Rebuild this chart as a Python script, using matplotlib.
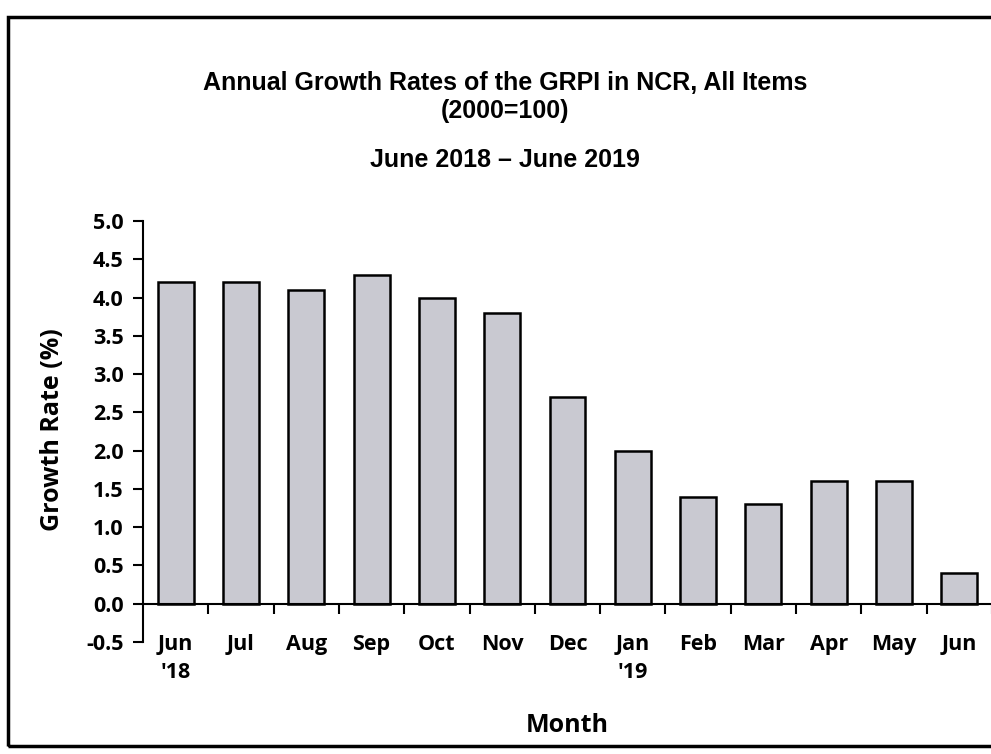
import matplotlib.pyplot as plt
from matplotlib.patches import Rectangle

# --- Datos del gráfico ---
meses = ["Jun\n'18", "Jul", "Aug", "Sep", "Oct", "Nov", "Dec",
         "Jan\n'19", "Feb", "Mar", "Apr", "May", "Jun"]
tasas = [4.2, 4.2, 4.1, 4.3, 4.0, 3.8, 2.7, 2.0, 1.4, 1.3, 1.6, 1.6, 0.4]
ticks_y = [-0.5, 0.0, 0.5, 1.0, 1.5, 2.0, 2.5, 3.0, 3.5, 4.0, 4.5, 5.0]

fuente = 'Open Sans'

fig = plt.figure(figsize=(9.91, 7.54), dpi=100)
ax = fig.add_axes([143 / 991, 1 - 642 / 754, 849 / 991, (642 - 221) / 754])

x = list(range(len(meses)))
ax.bar(x, tasas, width=0.55, color='#c9c9d1', edgecolor='black', linewidth=1.8, zorder=2)

ax.set_xlim(-0.5, len(meses) - 0.5)
ax.set_ylim(-0.5, 5.0)

# ejes: eje x pasa por cero
for lado in ['top', 'right']:
    ax.spines[lado].set_visible(False)
ax.spines['bottom'].set_position(('data', 0))
ax.spines['bottom'].set_linewidth(1.5)
ax.spines['left'].set_linewidth(1.5)

ax.set_yticks(ticks_y)
ax.set_yticklabels([f"{v:.1f}" for v in ticks_y], fontsize=15.5, fontweight='bold', family=fuente)
ax.tick_params(axis='y', length=7, width=1.5, pad=7)

# separadores entre categorias (minor ticks) y etiquetas en el centro
ax.set_xticks([i + 0.5 for i in x], minor=True)
ax.set_xticks(x)
ax.set_xticklabels(meses, fontsize=15.5, fontweight='bold', family=fuente, va='top', linespacing=1.45)
ax.tick_params(axis='x', which='major', length=0, pad=22)
ax.tick_params(axis='x', which='minor', length=7, width=1.5, direction='out')

ax.set_ylabel("Growth Rate (%)", fontsize=18, fontweight='bold', family=fuente)
ax.yaxis.set_label_coords(53 / 991, 1 - 430 / 754, transform=fig.transFigure)
ax.yaxis.label.set_va('center')
fig.text(567 / 991, 1 - 725 / 754, "Month", ha='center', va='center',
         fontsize=18, fontweight='bold', family=fuente)

# titulos
fig.text(505 / 991, 1 - 83 / 754, "Annual Growth Rates of the GRPI in NCR, All Items",
         ha='center', va='center', fontsize=18, fontweight='bold', family='Liberation Sans')
fig.text(505 / 991, 1 - 111 / 754, "(2000=100)",
         ha='center', va='center', fontsize=18, fontweight='bold', family='Liberation Sans')
fig.text(505 / 991, 1 - 160 / 754, "June 2018 \u2013 June 2019",
         ha='center', va='center', fontsize=18, fontweight='bold', family='Liberation Sans')

# marco negro del documento escaneado
marco = Rectangle((8 / 991, 1 - 746 / 754), 1.0, (746 - 17) / 754, transform=fig.transFigure,
                  fill=False, edgecolor='black', linewidth=2.5, clip_on=False)
fig.patches.append(marco)

fig.savefig('out.png', dpi=100)
